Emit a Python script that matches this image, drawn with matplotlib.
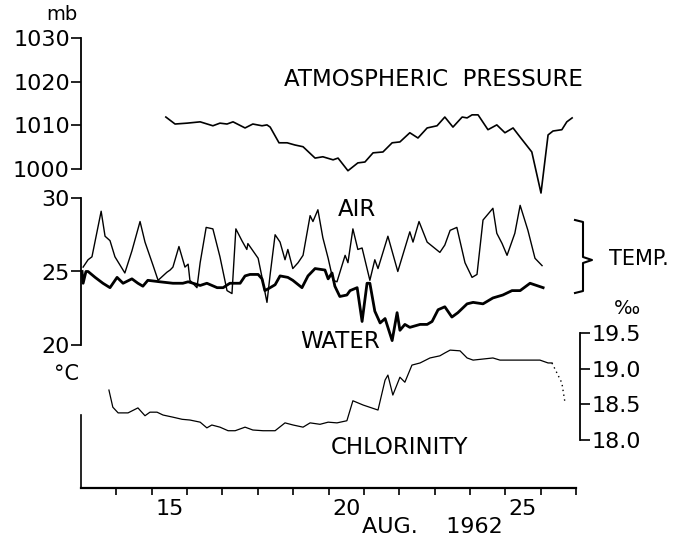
import matplotlib
matplotlib.use("Agg")
import matplotlib.pyplot as plt
from matplotlib.lines import Line2D

# time axis: day of August 1962 (fractional days, noon of day 15 = 15.5)
pres_day = [15.40, 15.66, 16.00, 16.37, 16.73, 16.93, 17.13, 17.30, 17.64, 17.86,
            18.12, 18.26, 18.35, 18.60, 18.83, 19.05, 19.28, 19.62, 19.84, 20.13,
            20.27, 20.55, 20.83, 21.03, 21.26, 21.54, 21.80, 22.02, 22.30, 22.53,
            22.79, 23.07, 23.29, 23.52, 23.78, 23.92, 24.06, 24.23, 24.51, 24.76,
            24.99, 25.22, 25.42, 25.75, 26.01, 26.21, 26.35, 26.60, 26.74, 26.89]
pres_mb = [1011.9, 1010.3, 1010.5, 1010.8, 1009.9, 1010.5, 1010.3, 1010.8, 1009.4, 1010.3,
           1009.9, 1010.1, 1009.6, 1006.0, 1006.0, 1005.5, 1005.1, 1002.5, 1002.8, 1002.1,
           1002.5, 999.6, 1001.4, 1001.6, 1003.7, 1003.9, 1006.0, 1006.2, 1008.3, 1007.1,
           1009.4, 1009.9, 1011.9, 1009.6, 1011.9, 1011.7, 1012.4, 1012.4, 1009.0, 1010.1,
           1008.3, 1009.4, 1007.3, 1003.9, 994.5, 1007.8, 1008.7, 1009.0, 1010.8, 1011.7]

air_day = [13.06, 13.20, 13.31, 13.57, 13.68, 13.82, 13.96, 14.24, 14.44, 14.67,
           14.81, 15.04, 15.18, 15.43, 15.52, 15.60, 15.77, 15.94, 16.03, 16.08,
           16.28, 16.37, 16.54, 16.73, 16.93, 17.13, 17.27, 17.38, 17.55, 17.69,
           17.72, 18.01, 18.12, 18.26, 18.35, 18.49, 18.63, 18.77, 18.85, 18.99,
           19.14, 19.28, 19.48, 19.56, 19.70, 19.84, 19.99, 20.13, 20.24, 20.47,
           20.55, 20.69, 20.83, 20.95, 21.17, 21.31, 21.40, 21.68, 21.96, 22.30,
           22.39, 22.56, 22.79, 23.15, 23.29, 23.44, 23.63, 23.86, 24.06, 24.20,
           24.37, 24.65, 24.76, 24.91, 25.05, 25.27, 25.42, 25.64, 25.84, 26.04]
air_t = [25.3, 25.8, 26.0, 29.1, 27.4, 27.1, 26.0, 24.9, 26.4, 28.4,
         27.0, 25.4, 24.4, 24.95, 25.1, 25.3, 26.7, 25.3, 25.5, 24.4,
         23.9, 25.6, 28.0, 27.9, 26.0, 23.7, 23.5, 27.9, 27.1, 26.5,
         26.9, 25.9, 24.6, 22.9, 24.8, 27.5, 27.0, 25.8, 26.5, 25.2,
         25.6, 26.1, 28.8, 28.4, 29.2, 27.3, 25.9, 24.4, 24.3, 26.1,
         25.6, 27.9, 26.5, 26.6, 24.4, 25.8, 25.2, 27.4, 25.0, 27.7,
         27.0, 28.4, 27.0, 26.3, 26.8, 27.8, 28.0, 25.6, 24.6, 24.8,
         28.5, 29.3, 27.6, 26.9, 26.1, 27.6, 29.5, 27.8, 25.9, 25.4]

water_day = [13.03, 13.06, 13.14, 13.20, 13.40, 13.62, 13.82, 14.02, 14.19, 14.44,
             14.61, 14.75, 14.89, 15.23, 15.60, 15.88, 16.03, 16.17, 16.37, 16.56,
             16.85, 17.02, 17.21, 17.50, 17.64, 17.78, 18.01, 18.12, 18.20, 18.35,
             18.49, 18.63, 18.85, 18.99, 19.25, 19.42, 19.62, 19.90, 19.99, 20.10,
             20.18, 20.32, 20.52, 20.61, 20.81, 20.95, 21.09, 21.17, 21.31, 21.46,
             21.60, 21.80, 21.94, 22.02, 22.16, 22.30, 22.59, 22.79, 22.93, 23.10,
             23.29, 23.49, 23.66, 23.92, 24.09, 24.37, 24.65, 24.93, 25.19, 25.42,
             25.70, 26.07]
water_t = [25.0, 24.2, 25.0, 25.0, 24.6, 24.2, 23.9, 24.6, 24.2, 24.5,
           24.2, 24.0, 24.4, 24.3, 24.2, 24.2, 24.3, 24.2, 24.05, 24.2,
           23.9, 23.9, 24.2, 24.2, 24.7, 24.8, 24.8, 24.5, 23.7, 23.9,
           24.1, 24.7, 24.6, 24.4, 23.9, 24.7, 25.2, 25.1, 24.5, 24.9,
           24.0, 23.3, 23.4, 23.7, 23.9, 21.6, 24.2, 24.2, 22.3, 21.5,
           21.8, 20.3, 22.2, 21.0, 21.4, 21.2, 21.4, 21.4, 21.6, 22.4,
           22.6, 21.9, 22.2, 22.8, 22.9, 22.8, 23.2, 23.4, 23.7, 23.7,
           24.2, 23.9]

chl_day = [13.79, 13.90, 14.05, 14.33, 14.61, 14.81, 14.95, 15.15, 15.32, 15.60,
           15.86, 16.08, 16.37, 16.56, 16.70, 16.93, 17.16, 17.36, 17.64, 17.86,
           18.15, 18.49, 18.77, 19.00, 19.28, 19.48, 19.76, 19.99, 20.24, 20.52,
           20.69, 20.98, 21.40, 21.60, 21.68, 21.82, 22.02, 22.16, 22.36, 22.59,
           22.87, 23.15, 23.29, 23.44, 23.72, 23.92, 24.09, 24.65, 24.85, 25.33,
           25.98, 26.21, 26.32]
chl_val = [18.70, 18.46, 18.38, 18.38, 18.45, 18.34, 18.39, 18.39, 18.35, 18.32,
           18.29, 18.28, 18.25, 18.17, 18.21, 18.18, 18.13, 18.13, 18.18, 18.14,
           18.13, 18.13, 18.24, 18.21, 18.18, 18.24, 18.22, 18.25, 18.24, 18.27,
           18.55, 18.49, 18.42, 18.84, 18.91, 18.63, 18.88, 18.81, 19.05, 19.08,
           19.15, 19.18, 19.22, 19.26, 19.25, 19.15, 19.12, 19.15, 19.12, 19.12,
           19.12, 19.08, 19.08]
# dotted (uncertain) end of chlorinity record
chl_tail_day = [26.32, 26.46, 26.60, 26.69]
chl_tail_val = [19.08, 18.94, 18.80, 18.52]

W, H = 676, 544
plt.rcParams['font.family'] = 'DejaVu Sans'
plt.rcParams['font.size'] = 15

fig = plt.figure(figsize=(W / 100, H / 100), dpi=100)


def box(x0, y0, x1, y1):
    # pixel box (top-left origin) -> figure fraction
    return [x0 / W, 1 - y1 / H, (x1 - x0) / W, (y1 - y0) / H]


def fxy(x, y):
    return x / W, 1 - y / H


ax_p = fig.add_axes(box(81, 38, 576, 169))
ax_t = fig.add_axes(box(81, 198, 576, 345))
ax_c = fig.add_axes(box(81, 333, 576, 488))

for ax in (ax_p, ax_t, ax_c):
    ax.set_facecolor('none')
    ax.set_xlim(13, 27)
    for s in ('top', 'right', 'bottom', 'left'):
        ax.spines[s].set_visible(False)

# pressure
ax_p.plot(pres_day, pres_mb, color='black', lw=1.2, clip_on=False)
ax_p.set_ylim(1000, 1030)
ax_p.set_yticks([1000, 1010, 1020, 1030])
ax_p.spines['left'].set_visible(True)
ax_p.spines['left'].set_linewidth(1.3)
ax_p.tick_params(axis='y', length=7, width=1.2, pad=1, labelsize=16)
ax_p.xaxis.set_visible(False)

# temperature
ax_t.plot(air_day, air_t, color='black', lw=1.0, clip_on=False)
ax_t.plot(water_day, water_t, color='black', lw=2.0, clip_on=False)
ax_t.set_ylim(20, 30)
ax_t.set_yticks([20, 25, 30])
ax_t.spines['left'].set_visible(True)
ax_t.spines['left'].set_linewidth(1.3)
ax_t.tick_params(axis='y', length=7, width=1.2, pad=1, labelsize=16)
ax_t.xaxis.set_visible(False)

# chlorinity + time axis
ax_c.plot(chl_day, chl_val, color='black', lw=0.9)
ax_c.plot(chl_tail_day, chl_tail_val, color='black', lw=1.0, ls=(0, (1, 2.5)))
ax_c.set_ylim(17.327, 19.5)
ax_c.yaxis.tick_right()
ax_c.set_yticks([18.0, 18.5, 19.0, 19.5])
ax_c.set_yticklabels(['18.0', '18.5', '19.0', '19.5'])
ax_c.spines['right'].set_visible(True)
ax_c.spines['right'].set_bounds(18.0, 19.5)
ax_c.spines['right'].set_position(('outward', 3))
ax_c.spines['right'].set_linewidth(1.3)
ax_c.spines['left'].set_visible(True)
ax_c.spines['left'].set_bounds(17.327, 18.35)
ax_c.spines['left'].set_linewidth(1.2)
ax_c.spines['bottom'].set_visible(True)
ax_c.spines['bottom'].set_linewidth(1.6)
ax_c.tick_params(axis='y', length=7, width=1.2, pad=1, labelsize=16)
ax_c.set_xticks(range(14, 28))
ax_c.set_xticklabels([])
ax_c.set_xticks([15.5, 20.5, 25.5], minor=True)
ax_c.set_xticklabels(['15', '20', '25'], minor=True)
ax_c.tick_params(axis='x', which='major', direction='out', length=5, width=1.2)
ax_c.tick_params(axis='x', which='minor', length=0, pad=8, labelsize=16)

# labels
fig.text(*fxy(62, 15), 'mb', ha='center', va='center', fontsize=14)
fig.text(*fxy(66, 374), '°C', ha='center', va='center', fontsize=15)
fig.text(*fxy(433, 80), 'ATMOSPHERIC  PRESSURE', ha='center', va='center', fontsize=16.5)
fig.text(*fxy(357, 209), 'AIR', ha='center', va='center', fontsize=16.5)
fig.text(*fxy(340, 342), 'WATER', ha='center', va='center', fontsize=16.5)
fig.text(*fxy(400, 447), 'CHLORINITY', ha='center', va='center', fontsize=16.5)
fig.text(*fxy(639, 259), 'TEMP.', ha='center', va='center', fontsize=15)
fig.text(*fxy(627, 308), '‰', ha='center', va='center', fontsize=14)
fig.text(*fxy(432, 527), 'AUG.    1962', ha='center', va='center', fontsize=16)

# brace for TEMP.
bx = [575, 583, 583, 592, 583, 583, 575]
by = [220, 222, 257, 260, 263, 291, 293]
fig.add_artist(Line2D([fxy(x, 0)[0] for x in bx], [fxy(0, y)[1] for y in by],
                      color='black', lw=1.5))

fig.savefig('out.png', dpi=100)
